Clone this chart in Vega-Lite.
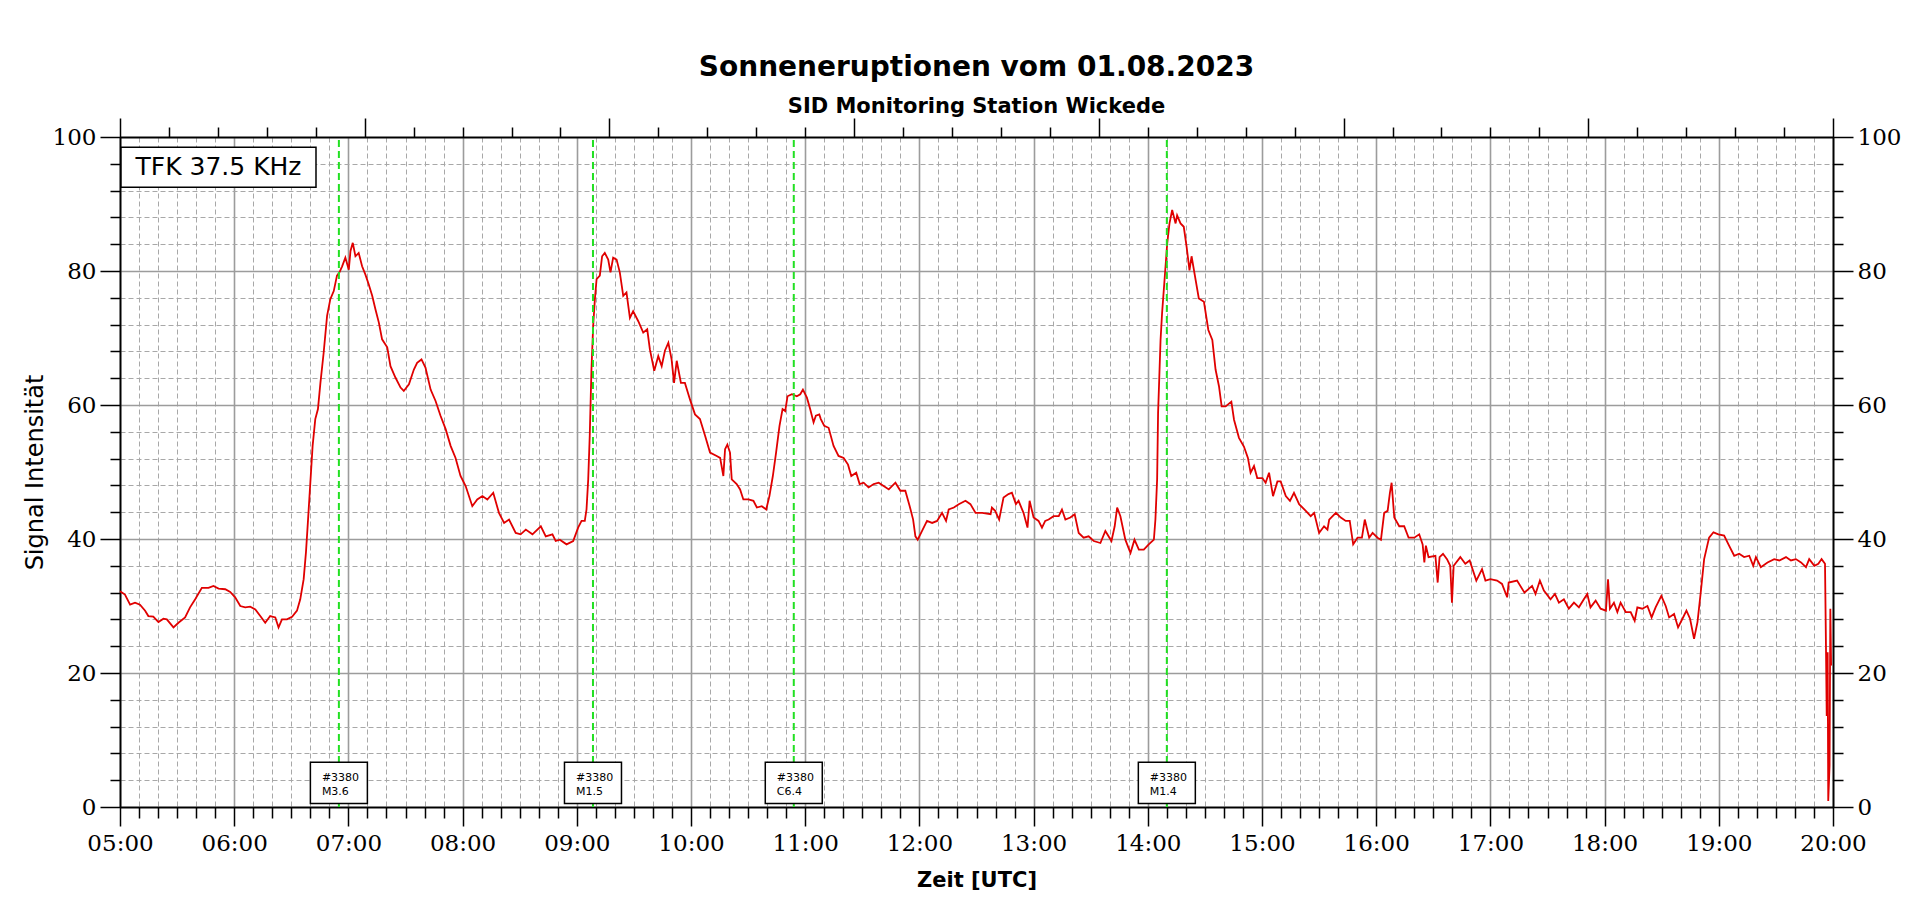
{
  "$schema": "https://vega.github.io/schema/vega-lite/v6.json",
  "description": "SID Monitoring Wickede, TFK 37.5 KHz, 01.08.2023",
  "width": 1713,
  "height": 670,
  "autosize": "none",
  "padding": {"left": 120, "top": 137, "right": 87, "bottom": 97},
  "background": "white",
  "title": {
    "text": "Sonneneruptionen vom 01.08.2023",
    "subtitle": "SID Monitoring Station Wickede",
    "anchor": "middle",
    "font": "DejaVu Sans",
    "fontSize": 28,
    "fontWeight": "bold",
    "color": "black",
    "subtitleFont": "DejaVu Sans",
    "subtitleFontSize": 21,
    "subtitleFontWeight": "bold",
    "subtitleColor": "black",
    "subtitlePadding": 14,
    "offset": 0
  },
  "datasets": {
    "signal": [
      {"t":0,"v":32.2},{"t":2.6,"v":31.7},{"t":5.3,"v":30.2},{"t":7.9,"v":30.5},{"t":10.5,"v":30.2},{"t":13.2,"v":29.3},{"t":14.9,"v":28.5},{"t":17.5,"v":28.4},{"t":20.2,"v":27.6},{"t":22.8,"v":28.1},{"t":24.6,"v":28.0},{"t":28.1,"v":26.8},{"t":30.7,"v":27.5},{"t":34.2,"v":28.3},{"t":36.8,"v":29.8},{"t":39.5,"v":31.0},{"t":43.0,"v":32.7},{"t":46.5,"v":32.7},{"t":49.1,"v":33.0},{"t":51.8,"v":32.6},{"t":55.3,"v":32.5},{"t":57.9,"v":32.1},{"t":60.5,"v":31.3},{"t":63.2,"v":30.0},{"t":65.8,"v":29.8},{"t":68.4,"v":29.9},{"t":71.1,"v":29.5},{"t":73.7,"v":28.5},{"t":76.3,"v":27.5},{"t":78.9,"v":28.5},{"t":81.6,"v":28.3},{"t":83.3,"v":26.8},{"t":85.1,"v":28.0},{"t":87.7,"v":28.0},{"t":90.4,"v":28.4},{"t":93.0,"v":29.3},{"t":94.7,"v":31.0},{"t":96.5,"v":34.0},{"t":97.7,"v":38.0},{"t":98.8,"v":42.9},{"t":100.0,"v":48.4},{"t":101.2,"v":53.9},{"t":102.6,"v":57.9},{"t":104.0,"v":59.4},{"t":105.3,"v":63.3},{"t":107.0,"v":67.8},{"t":108.8,"v":73.3},{"t":110.5,"v":75.8},{"t":112.3,"v":77.0},{"t":114.0,"v":79.3},{"t":115.3,"v":79.8},{"t":116.7,"v":80.7},{"t":118.4,"v":82.0},{"t":120.2,"v":80.2},{"t":121.1,"v":83.0},{"t":122.3,"v":84.2},{"t":123.7,"v":82.2},{"t":125.4,"v":82.7},{"t":127.2,"v":80.7},{"t":128.9,"v":79.5},{"t":130.7,"v":78.0},{"t":132.5,"v":76.3},{"t":134.2,"v":74.3},{"t":136.0,"v":72.3},{"t":137.7,"v":69.8},{"t":140.4,"v":68.6},{"t":142.1,"v":65.8},{"t":144.7,"v":64.1},{"t":147.4,"v":62.6},{"t":149.1,"v":62.1},{"t":151.8,"v":63.1},{"t":154.4,"v":65.3},{"t":156.1,"v":66.3},{"t":158.4,"v":66.8},{"t":160.5,"v":65.6},{"t":163.2,"v":62.3},{"t":165.8,"v":60.6},{"t":168.4,"v":58.4},{"t":171.1,"v":56.4},{"t":173.7,"v":53.9},{"t":176.3,"v":52.1},{"t":178.9,"v":49.4},{"t":181.6,"v":47.9},{"t":185.1,"v":44.9},{"t":187.7,"v":45.9},{"t":190.4,"v":46.4},{"t":193.0,"v":45.9},{"t":196.1,"v":46.9},{"t":199.1,"v":43.9},{"t":201.8,"v":42.4},{"t":204.4,"v":42.9},{"t":207.9,"v":40.9},{"t":210.5,"v":40.7},{"t":213.2,"v":41.4},{"t":216.7,"v":40.7},{"t":221.1,"v":41.9},{"t":223.7,"v":40.4},{"t":227.2,"v":40.7},{"t":228.9,"v":39.7},
      {"t":231.1,"v":39.9},{"t":234.6,"v":39.2},{"t":238.1,"v":39.7},{"t":240.7,"v":41.7},{"t":242.5,"v":42.7},{"t":244.2,"v":42.7},{"t":245.1,"v":44.4},{"t":246.0,"v":48.9},{"t":246.8,"v":55.4},{"t":247.7,"v":65.3},{"t":248.6,"v":71.8},{"t":249.5,"v":75.8},{"t":250.4,"v":78.8},{"t":252.1,"v":79.3},{"t":253.3,"v":82.2},{"t":254.7,"v":82.7},{"t":256.5,"v":81.7},{"t":257.7,"v":79.8},{"t":259.1,"v":82.0},{"t":260.9,"v":81.7},{"t":262.6,"v":79.8},{"t":264.4,"v":76.3},{"t":266.1,"v":76.8},{"t":267.9,"v":73.0},{"t":269.6,"v":74.0},{"t":272.3,"v":72.5},{"t":274.9,"v":70.8},{"t":277.0,"v":71.3},{"t":278.4,"v":68.3},{"t":280.7,"v":65.1},{"t":282.8,"v":67.3},{"t":284.6,"v":65.8},{"t":286.3,"v":68.1},{"t":288.1,"v":69.3},{"t":289.8,"v":66.8},{"t":291.1,"v":63.3},{"t":292.5,"v":66.6},{"t":294.7,"v":63.3},{"t":296.8,"v":63.3},{"t":299.5,"v":60.8},{"t":302.1,"v":58.6},{"t":304.7,"v":57.9},{"t":307.4,"v":55.4},{"t":310.0,"v":52.9},{"t":313.5,"v":52.4},{"t":315.3,"v":52.1},{"t":317.0,"v":49.4},{"t":317.9,"v":53.4},{"t":319.1,"v":54.1},{"t":320.5,"v":52.9},{"t":321.4,"v":48.9},{"t":324.0,"v":48.2},{"t":325.8,"v":47.4},{"t":327.5,"v":45.9},{"t":330.2,"v":45.9},{"t":332.8,"v":45.7},{"t":334.6,"v":44.7},{"t":337.2,"v":44.9},{"t":339.5,"v":44.4},{"t":341.2,"v":46.4},{"t":343.0,"v":49.4},{"t":344.7,"v":52.9},{"t":346.5,"v":56.9},{"t":348.1,"v":59.4},{"t":349.5,"v":59.1},{"t":350.7,"v":61.3},{"t":353.0,"v":61.6},{"t":355.6,"v":61.3},{"t":357.4,"v":61.6},{"t":358.8,"v":62.3},{"t":360.9,"v":61.1},{"t":362.6,"v":59.4},{"t":364.4,"v":57.4},{"t":365.6,"v":58.4},{"t":367.4,"v":58.6},{"t":368.2,"v":57.9},{"t":370.0,"v":56.9},{"t":372.3,"v":56.6},{"t":374.9,"v":53.9},{"t":377.5,"v":52.4},{"t":380.2,"v":52.1},{"t":382.5,"v":51.1},{"t":384.2,"v":49.4},{"t":386.8,"v":49.9},{"t":388.6,"v":48.2},{"t":390.7,"v":48.4},{"t":393.3,"v":47.7},{"t":396.0,"v":48.2},{"t":398.6,"v":48.4},{"t":401.2,"v":47.9},{"t":403.9,"v":47.4},{"t":407.4,"v":48.4},{"t":410.0,"v":47.2},{"t":412.6,"v":47.2},{"t":414.9,"v":44.9},{"t":416.7,"v":42.9},{"t":417.9,"v":40.4},{"t":419.1,"v":39.9},{"t":421.4,"v":41.2},{"t":424.0,"v":42.7},{"t":426.7,"v":42.4},{"t":429.3,"v":42.7},{"t":431.9,"v":43.9},{"t":434.0,"v":42.7},{"t":435.4,"v":44.4},{"t":438.1,"v":44.7},{"t":440.7,"v":45.2},{"t":444.2,"v":45.7},{"t":446.8,"v":45.2},{"t":449.5,"v":43.9},{"t":453.0,"v":43.9},{"t":457.4,"v":43.7},
      {"t":458.1,"v":44.7},{"t":459.8,"v":44.2},{"t":461.9,"v":42.9},{"t":464.2,"v":46.2},{"t":466.8,"v":46.7},{"t":468.6,"v":46.9},{"t":470.7,"v":45.2},{"t":472.1,"v":45.7},{"t":474.7,"v":43.9},{"t":476.8,"v":41.7},{"t":477.9,"v":45.7},{"t":480.0,"v":43.2},{"t":482.6,"v":42.7},{"t":484.4,"v":41.7},{"t":486.1,"v":42.7},{"t":487.9,"v":42.9},{"t":490.5,"v":43.4},{"t":493.2,"v":43.4},{"t":494.9,"v":44.4},{"t":496.7,"v":42.9},{"t":499.3,"v":43.2},{"t":501.6,"v":43.7},{"t":503.7,"v":40.9},{"t":506.3,"v":40.2},{"t":508.9,"v":40.4},{"t":511.6,"v":39.7},{"t":515.1,"v":39.4},{"t":517.7,"v":41.2},{"t":520.9,"v":39.7},{"t":522.6,"v":41.9},{"t":523.9,"v":44.7},{"t":525.6,"v":43.4},{"t":528.2,"v":39.9},{"t":530.9,"v":37.9},{"t":533.0,"v":39.9},{"t":535.3,"v":38.4},{"t":537.9,"v":38.4},{"t":540.5,"v":39.2},{"t":543.2,"v":39.9},{"t":544.0,"v":42.9},{"t":544.9,"v":48.9},{"t":545.4,"v":58.8},{"t":546.0,"v":63.8},{"t":546.7,"v":69.7},{"t":547.5,"v":73.7},{"t":548.8,"v":78.7},{"t":550.2,"v":84.1},{"t":551.4,"v":87.1},{"t":552.8,"v":89.1},{"t":554.6,"v":87.1},{"t":555.4,"v":88.3},{"t":557.2,"v":87.1},{"t":558.9,"v":86.6},{"t":560.4,"v":83.6},{"t":561.9,"v":80.1},{"t":563.0,"v":82.2},{"t":565.1,"v":78.7},{"t":566.8,"v":75.9},{"t":569.5,"v":75.4},{"t":571.8,"v":71.2},{"t":573.9,"v":69.7},{"t":575.6,"v":65.3},{"t":577.4,"v":62.8},{"t":578.8,"v":59.8},{"t":580.9,"v":59.8},{"t":583.9,"v":60.5},{"t":585.3,"v":57.8},{"t":587.9,"v":55.1},{"t":590.5,"v":53.8},{"t":592.6,"v":52.1},{"t":594.0,"v":49.9},{"t":595.8,"v":50.9},{"t":597.5,"v":49.1},{"t":600.2,"v":49.1},{"t":601.9,"v":48.4},{"t":603.7,"v":49.9},{"t":605.8,"v":46.4},{"t":608.1,"v":48.6},{"t":609.8,"v":48.6},{"t":612.5,"v":46.4},{"t":614.7,"v":45.7},{"t":616.8,"v":46.9},{"t":619.5,"v":45.2},{"t":623.0,"v":44.2},{"t":625.6,"v":43.4},{"t":627.4,"v":43.9},{"t":630.0,"v":40.9},{"t":632.6,"v":41.9},{"t":634.4,"v":41.4},{"t":635.3,"v":42.9},{"t":638.8,"v":43.9},{"t":641.4,"v":43.2},{"t":644.0,"v":42.7},{"t":646.1,"v":42.7},{"t":647.9,"v":39.2},{"t":650.2,"v":40.2},{"t":652.5,"v":40.2},{"t":654.0,"v":42.9},{"t":656.3,"v":40.2},{"t":658.1,"v":40.9},{"t":660.7,"v":40.2},{"t":662.5,"v":39.9},{"t":664.2,"v":43.9},{"t":666.0,"v":44.2},{"t":667.2,"v":46.9},{"t":668.1,"v":48.4},{"t":669.5,"v":43.2},{"t":672.1,"v":41.9},{"t":674.7,"v":41.9},{"t":677.0,"v":40.2},{"t":680.0,"v":40.2},{"t":682.6,"v":40.7},{"t":684.4,"v":39.2},{"t":685.3,"v":36.5},{"t":686.1,"v":39.0},
      {"t":687.5,"v":37.3},{"t":691.1,"v":37.5},{"t":692.3,"v":33.5},{"t":693.3,"v":37.3},{"t":695.1,"v":37.8},{"t":697.2,"v":37.0},{"t":698.9,"v":36.0},{"t":699.8,"v":30.5},{"t":700.7,"v":36.0},{"t":704.2,"v":37.3},{"t":706.8,"v":36.3},{"t":709.1,"v":36.8},{"t":712.6,"v":33.8},{"t":715.6,"v":35.5},{"t":717.4,"v":33.8},{"t":720.0,"v":34.0},{"t":723.5,"v":33.8},{"t":726.1,"v":33.3},{"t":728.8,"v":31.3},{"t":729.6,"v":33.5},{"t":734.0,"v":33.8},{"t":737.9,"v":32.0},{"t":741.9,"v":33.0},{"t":743.7,"v":31.8},{"t":746.0,"v":33.8},{"t":748.1,"v":32.3},{"t":751.6,"v":31.0},{"t":753.9,"v":31.8},{"t":756.0,"v":30.5},{"t":758.6,"v":31.0},{"t":761.2,"v":29.6},{"t":763.9,"v":30.5},{"t":766.5,"v":29.8},{"t":769.1,"v":31.0},{"t":770.9,"v":31.8},{"t":772.6,"v":29.8},{"t":775.3,"v":30.8},{"t":777.9,"v":29.6},{"t":780.7,"v":29.3},{"t":781.8,"v":34.0},{"t":782.8,"v":29.6},{"t":784.9,"v":30.5},{"t":786.7,"v":29.1},{"t":788.4,"v":30.5},{"t":791.1,"v":29.1},{"t":793.7,"v":29.1},{"t":795.8,"v":27.8},{"t":797.2,"v":29.8},{"t":799.8,"v":29.6},{"t":802.5,"v":30.0},{"t":804.7,"v":28.3},{"t":806.8,"v":29.8},{"t":809.8,"v":31.5},{"t":812.1,"v":30.0},{"t":813.9,"v":28.3},{"t":816.5,"v":28.8},{"t":818.6,"v":26.8},{"t":820.9,"v":28.1},{"t":823.0,"v":29.3},{"t":824.9,"v":28.1},{"t":827.0,"v":25.1},{"t":828.8,"v":27.6},{"t":830.5,"v":32.0},{"t":832.3,"v":37.0},{"t":834.9,"v":40.2},{"t":837.2,"v":41.0},{"t":839.8,"v":40.7},{"t":842.8,"v":40.5},{"t":845.4,"v":39.0},{"t":848.1,"v":37.5},{"t":850.7,"v":37.8},{"t":853.3,"v":37.3},{"t":856.0,"v":37.5},{"t":858.1,"v":36.0},{"t":859.5,"v":37.3},{"t":862.1,"v":35.8},{"t":865.6,"v":36.5},{"t":869.1,"v":37.0},{"t":871.8,"v":36.8},{"t":875.3,"v":37.3},{"t":877.9,"v":36.8},{"t":880.5,"v":37.0},{"t":883.2,"v":36.5},{"t":885.8,"v":35.8},{"t":887.5,"v":37.0},{"t":890.2,"v":36.0},{"t":892.3,"v":36.3},{"t":894.0,"v":37.0},{"t":895.8,"v":36.3},{"t":896.3,"v":24.1},{"t":896.7,"v":13.6},{"t":897.2,"v":23.1},{"t":897.5,"v":0.9},{"t":898.2,"v":6.2},{"t":898.6,"v":29.6},{"t":899.0,"v":21.1}
    ],
    "flares": [
      {"t": 115, "region": "#3380", "klasse": "M3.6"},
      {"t": 248.5, "region": "#3380", "klasse": "M1.5"},
      {"t": 354, "region": "#3380", "klasse": "C6.4"},
      {"t": 550, "region": "#3380", "klasse": "M1.4"}
    ],
    "station": [
      {"t": 51.75, "label": "TFK 37.5 KHz"}
    ]
  },
  "resolve": {"axis": {"x": "independent", "y": "independent"}},
  "layer": [
    {
      "data": {"name": "signal"},
      "mark": {"type": "line", "color": "#e00000", "strokeWidth": 1.8, "interpolate": "linear"},
      "encoding": {
        "x": {
          "field": "t", "type": "quantitative",
          "scale": {"domain": [0, 900], "nice": false, "zero": false},
          "axis": {
            "orient": "bottom", "title": null, "labels": false,
            "values": [10,20,30,40,50,70,80,90,100,110,130,140,150,160,170,190,200,210,220,230,250,260,270,280,290,310,320,330,340,350,370,380,390,400,410,430,440,450,460,470,490,500,510,520,530,550,560,570,580,590,610,620,630,640,650,670,680,690,700,710,730,740,750,760,770,790,800,810,820,830,850,860,870,880,890],
            "tickSize": 11, "tickColor": "black", "tickWidth": 1.5,
            "domainColor": "black", "domainWidth": 1.5,
            "grid": true, "gridColor": "#a8a8a8", "gridWidth": 1, "gridDash": [5, 3]
          }
        },
        "y": {
          "field": "v", "type": "quantitative",
          "scale": {"domain": [0, 100], "nice": false},
          "axis": {
            "orient": "left", "title": null, "labels": false,
            "values": [4,8,12,16,24,28,32,36,44,48,52,56,64,68,72,76,84,88,92,96],
            "tickSize": 10, "tickColor": "black", "tickWidth": 1.5,
            "domainColor": "black", "domainWidth": 1.5,
            "grid": true, "gridColor": "#a8a8a8", "gridWidth": 1, "gridDash": [5, 3]
          }
        }
      }
    },
    {
      "data": {"name": "flares"},
      "mark": {"type": "rule", "color": "#22e022", "strokeWidth": 2, "strokeDash": [7, 4]},
      "encoding": {
        "x": {
          "field": "t", "type": "quantitative",
          "axis": {
            "orient": "bottom",
            "values": [0,60,120,180,240,300,360,420,480,540,600,660,720,780,840,900],
            "labelExpr": "(datum.value < 300 ? '0' : '') + floor(5 + datum.value / 60) + ':00'",
            "labelFont": "DejaVu Serif", "labelFontSize": 23, "labelColor": "black", "labelPadding": 6,
            "labelFlush": false, "labelOverlap": false,
            "tickSize": 19, "tickColor": "black", "tickWidth": 1.5,
            "domainColor": "black", "domainWidth": 1.5,
            "grid": true, "gridColor": "#9c9c9c", "gridWidth": 1.6,
            "title": "Zeit [UTC]", "titleFont": "DejaVu Sans", "titleFontSize": 21, "titleFontWeight": "bold",
            "titleColor": "black", "titlePadding": 14
          }
        },
        "y": {
          "datum": 0, "type": "quantitative",
          "axis": {
            "orient": "left",
            "values": [0, 20, 40, 60, 80, 100],
            "labelFont": "DejaVu Serif", "labelFontSize": 23, "labelColor": "black", "labelPadding": 4,
            "labelFlush": false, "labelOverlap": false,
            "tickSize": 20, "tickColor": "black", "tickWidth": 1.5,
            "domainColor": "black", "domainWidth": 1.5,
            "grid": true, "gridColor": "#9c9c9c", "gridWidth": 1.6,
            "title": "Signal Intensität", "titleFont": "DejaVu Sans", "titleFontSize": 24, "titleFontWeight": "normal",
            "titleColor": "black", "titlePadding": 5
          }
        },
        "y2": {"datum": 100}
      }
    },
    {
      "data": {"name": "flares"},
      "mark": {
        "type": "point",
        "shape": "M-1,-0.72L1,-0.72L1,0.72L-1,0.72Z",
        "size": 3249, "filled": true, "fill": "white", "stroke": "black", "strokeWidth": 1.5, "opacity": 1
      },
      "encoding": {
        "x": {
          "field": "t", "type": "quantitative",
          "axis": {
            "orient": "top", "title": null, "labels": false,
            "values": [0, 128.571, 257.143, 385.714, 514.286, 642.857, 771.429, 900],
            "tickSize": 19, "tickColor": "black", "tickWidth": 1.5,
            "domainColor": "black", "domainWidth": 1.5, "grid": false
          }
        },
        "y": {
          "datum": 3.6, "type": "quantitative",
          "axis": {
            "orient": "right", "title": null,
            "values": [0, 20, 40, 60, 80, 100],
            "labelFont": "DejaVu Serif", "labelFontSize": 23, "labelColor": "black", "labelPadding": 4,
            "labelFlush": false, "labelOverlap": false,
            "tickSize": 20, "tickColor": "black", "tickWidth": 1.5,
            "domainColor": "black", "domainWidth": 1.5, "grid": false
          }
        }
      }
    },
    {
      "data": {"name": "flares"},
      "mark": {"type": "text", "font": "DejaVu Sans", "fontSize": 11, "color": "black", "align": "left", "baseline": "middle", "dx": -17},
      "encoding": {
        "x": {
          "field": "t", "type": "quantitative",
          "axis": {
            "orient": "top", "title": null, "labels": false,
            "values": [25.714, 51.429, 77.143, 102.857, 154.286, 180, 205.714, 231.429, 282.857, 308.571, 334.286, 360, 411.429, 437.143, 462.857, 488.571, 540, 565.714, 591.429, 617.143, 668.571, 694.286, 720, 745.714, 797.143, 822.857, 848.571, 874.286],
            "tickSize": 10, "tickColor": "black", "tickWidth": 1.5,
            "domainColor": "black", "domainWidth": 1.5, "grid": false
          }
        },
        "y": {
          "datum": 4.4, "type": "quantitative",
          "axis": {
            "orient": "right", "title": null, "labels": false,
            "values": [4,8,12,16,24,28,32,36,44,48,52,56,64,68,72,76,84,88,92,96],
            "tickSize": 10, "tickColor": "black", "tickWidth": 1.5,
            "domainColor": "black", "domainWidth": 1.5, "grid": false
          }
        },
        "text": {"field": "region"}
      }
    },
    {
      "data": {"name": "flares"},
      "mark": {"type": "text", "font": "DejaVu Sans", "fontSize": 11, "color": "black", "align": "left", "baseline": "middle", "dx": -17},
      "encoding": {
        "x": {"field": "t", "type": "quantitative", "axis": null},
        "y": {"datum": 2.2, "type": "quantitative", "axis": null},
        "text": {"field": "klasse"}
      }
    },
    {
      "data": {"name": "station"},
      "mark": {
        "type": "point",
        "shape": "M-1,-0.205L1,-0.205L1,0.205L-1,0.205Z",
        "size": 38025, "filled": true, "fill": "white", "stroke": "black", "strokeWidth": 1.5, "opacity": 1
      },
      "encoding": {
        "x": {"field": "t", "type": "quantitative", "axis": null},
        "y": {"datum": 95.5, "type": "quantitative", "axis": null}
      }
    },
    {
      "data": {"name": "station"},
      "mark": {"type": "text", "font": "DejaVu Sans", "fontSize": 25, "color": "black", "align": "center", "baseline": "middle"},
      "encoding": {
        "x": {"field": "t", "type": "quantitative", "axis": null},
        "y": {"datum": 95.5, "type": "quantitative", "axis": null},
        "text": {"field": "label"}
      }
    }
  ],
  "config": {
    "view": {"stroke": null}
  }
}
